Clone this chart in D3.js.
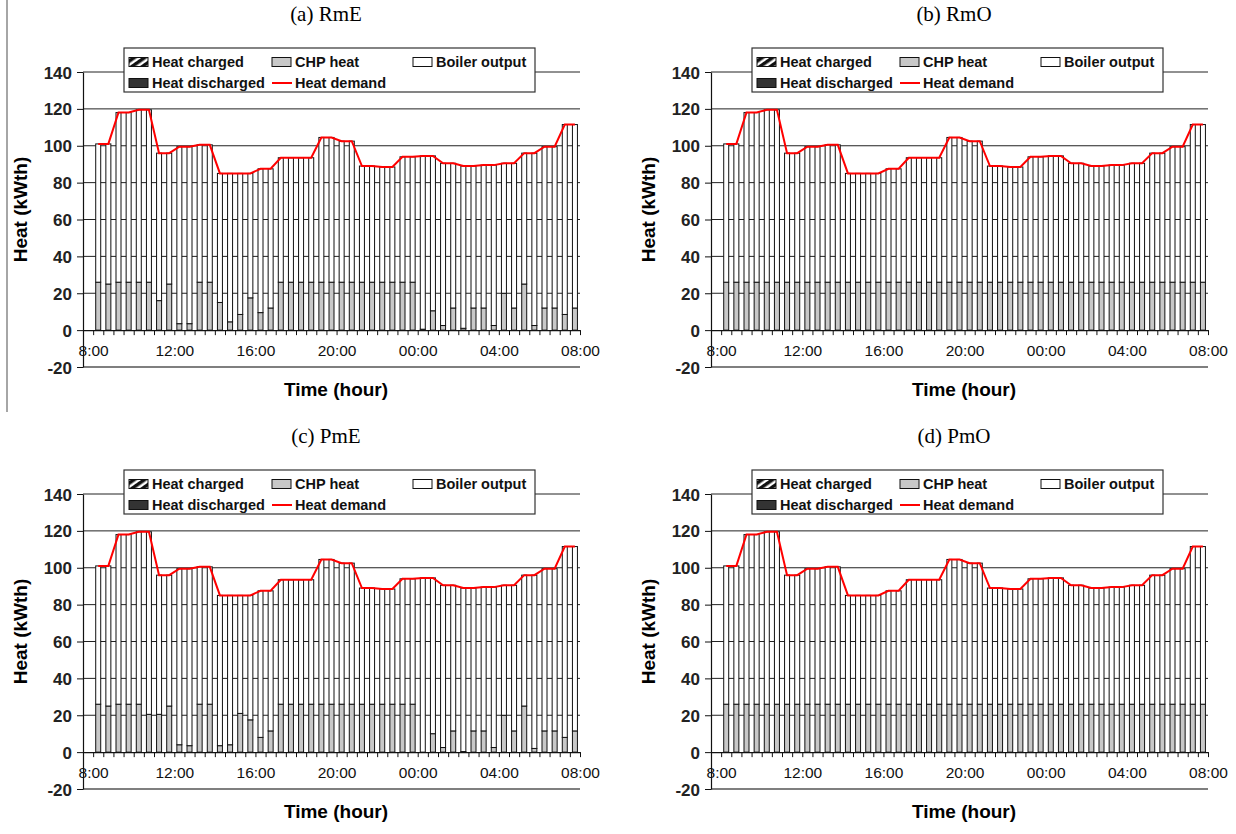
<!DOCTYPE html>
<html>
<head>
<meta charset="utf-8">
<script src="https://cdn.jsdelivr.net/npm/d3@7"></script>
<style>
  body { margin: 0; background: #fff; }
  svg { display: block; }
</style>
</head>
<body>
<div id="chart"></div>
<script>
// half-hour slots, 8:00 -> 08:00 next day (48 slots)
const slotStart = d3.range(48).map(k => 8 + 0.5 * k);
const tickLabels = ["8:00", "12:00", "16:00", "20:00", "00:00", "04:00", "08:00"];
const yTicks = [-20, 0, 20, 40, 60, 80, 100, 120, 140];

// heat demand (kWth)
const demand = [
	101, 101, 118, 118, 119.5, 119.5, 96, 96, 99.5, 99.5, 100.5, 100.5,
	85, 85, 85, 85, 87.5, 87.5, 93.5, 93.5, 93.5, 93.5, 104.5, 104.5,
	102.5, 102.5, 89, 89, 88.5, 88.5, 94, 94, 94.5, 94.5, 90.5, 90.5,
	89, 89, 89.5, 89.5, 90.5, 90.5, 96, 96, 99.5, 99.5, 111.5, 111.5,
];

// CHP heat per slot
const chpRmE = [
	26, 25, 26, 26, 26, 26, 16, 25, 3.5, 3.5, 26, 26,
	15, 4.5, 8.5, 17.5, 9.5, 12, 26, 26, 26, 26, 26, 26,
	26, 26, 26, 26, 26, 26, 26, 26, 0.5, 10.5, 2.5, 12,
	1, 12, 12, 2.5, 20, 12, 25, 2.5, 12, 12, 8.5, 12,
];
const chpRmO = [
	26, 26, 26, 26, 26, 26, 26, 26, 26, 26, 26, 26,
	26, 26, 26, 26, 26, 26, 26, 26, 26, 26, 26, 26,
	26, 26, 26, 26, 26, 26, 26, 26, 26, 26, 26, 26,
	26, 26, 26, 26, 26, 26, 26, 26, 26, 26, 26, 26,
];
const chpPmE = [
	26, 25, 26, 26, 26, 20.5, 20.5, 25, 4, 3.5, 26, 26,
	3.5, 4, 21, 17.5, 8, 11.5, 26, 26, 26, 26, 26, 26,
	26, 26, 26, 26, 26, 26, 26, 26, 0, 10, 2.5, 11.5,
	0.3, 11.5, 11.5, 2.5, 20, 11.5, 25, 2, 11.5, 11.5, 8, 11.5,
];
const chpPmO = [
	26, 26, 26, 26, 26, 26, 26, 26, 26, 26, 26, 26,
	26, 26, 26, 26, 26, 26, 26, 26, 26, 26, 26, 26,
	26, 26, 26, 26, 26, 26, 26, 26, 26, 26, 26, 26,
	26, 26, 26, 26, 26, 26, 26, 26, 26, 26, 26, 26,
];

const panels = [
	{ title: "(a) RmE", chp: chpRmE, ox: 0, oy: 0 },
	{ title: "(b) RmO", chp: chpRmO, ox: 628, oy: 0 },
	{ title: "(c) PmE", chp: chpPmE, ox: 0, oy: 422 },
	{ title: "(d) PmO", chp: chpPmO, ox: 628, oy: 422 },
];

const width = 1236;
const height = 834;
const margin = { top: 72, left: 83 };
const innerWidth = 497;
const innerHeight = 295;
const sans = "'Liberation Sans', Arial, sans-serif";

const svg = d3.select("#chart")
	.append("svg")
	.attr("width", width)
	.attr("height", height);

// hatch pattern for "Heat charged"
svg.append("defs")
	.append("pattern")
	.attr("id", "hatch")
	.attr("patternUnits", "userSpaceOnUse")
	.attr("width", 6)
	.attr("height", 6)
	.attr("patternTransform", "rotate(-35)")
	.append("rect")
	.attr("width", 6)
	.attr("height", 3.5)
	.attr("fill", "#111");

// frame line at far left (from the source figure)
svg.append("line")
	.attr("x1", 7).attr("x2", 7)
	.attr("y1", 0).attr("y2", 412)
	.attr("stroke", "#888")
	.attr("stroke-width", 1.5);

const x = d3.scaleLinear([7.5, 32], [0, innerWidth]);
const y = d3.scaleLinear([-20, 140], [innerHeight, 0]);
const barW = 5;

panels.forEach(p => {
	const g = svg.append("g")
		.attr("transform", `translate(${margin.left + p.ox},${margin.top + p.oy})`);

	// title
	g.append("text")
		.attr("x", 243)
		.attr("y", -51)
		.attr("text-anchor", "middle")
		.attr("font-family", "'Liberation Serif', 'Times New Roman', serif")
		.attr("font-size", 21)
		.text(p.title);

	// gridlines
	g.append("g")
		.selectAll("line")
		.data(yTicks.filter(v => v > 0))
		.join("line")
		.attr("x1", 0)
		.attr("x2", innerWidth)
		.attr("y1", d => y(d))
		.attr("y2", d => y(d))
		.attr("stroke", "#222")
		.attr("stroke-width", 1);

	g.append("line")
		.attr("x1", 0).attr("x2", innerWidth)
		.attr("y1", y(-20)).attr("y2", y(-20))
		.attr("stroke", "#555")
		.attr("stroke-width", 1.5);

	// stacked bars
	const rows = slotStart.map((h, i) => ({ h, chp: p.chp[i], demand: demand[i] }));
	const bars = g.append("g");
	bars.selectAll("rect.chp")
		.data(rows)
		.join("rect")
		.attr("class", "chp")
		.attr("x", d => x(d.h + 0.25) - barW / 2)
		.attr("width", barW)
		.attr("y", d => y(d.chp))
		.attr("height", d => y(0) - y(d.chp))
		.attr("fill", "#c8c8c8")
		.attr("stroke", "#111")
		.attr("stroke-width", 1);
	bars.selectAll("rect.boiler")
		.data(rows)
		.join("rect")
		.attr("class", "boiler")
		.attr("x", d => x(d.h + 0.25) - barW / 2)
		.attr("width", barW)
		.attr("y", d => y(d.demand))
		.attr("height", d => y(d.chp) - y(d.demand))
		.attr("fill", "#fff")
		.attr("stroke", "#111")
		.attr("stroke-width", 1);

	// heat demand line
	g.append("path")
		.datum(rows)
		.attr("fill", "none")
		.attr("stroke", "#ff0000")
		.attr("stroke-width", 2)
		.attr("d", d3.line().x(d => x(d.h + 0.25)).y(d => y(d.demand)));

	// y axis
	const yAxis = d3.axisLeft(y)
		.tickValues(yTicks)
		.tickSize(6)
		.tickSizeOuter(0)
		.tickPadding(5)
		.tickFormat(d => String(d));
	const yg = g.append("g").call(yAxis)
		.attr("font-family", sans)
		.attr("font-size", 17)
		.attr("font-weight", "bold");
	yg.select(".domain").attr("stroke", "#111").attr("stroke-width", 1.2);
	yg.selectAll(".tick line").attr("stroke", "#111");
	yg.selectAll("text")
		.attr("dy", null)
		.attr("y", 6)
		.attr("fill", "#222");

	// x axis at zero
	const xAxis = d3.axisBottom(x)
		.tickValues(d3.range(8, 32.01, 0.5))
		.tickSize(5)
		.tickSizeOuter(0)
		.tickPadding(10)
		.tickFormat(h => (h % 4 === 0 ? tickLabels[(h - 8) / 4] : ""));
	const xg = g.append("g").attr("transform", `translate(0,${y(0)})`).call(xAxis)
		.attr("font-family", sans)
		.attr("font-size", 15.5);
	xg.select(".domain").attr("stroke", "#111").attr("stroke-width", 1.2);
	xg.selectAll(".tick line").attr("stroke", "#111");
	xg.selectAll(".tick text").filter(h => h % 4 !== 0).remove();
	xg.selectAll("text")
		.attr("dy", null)
		.attr("y", 26)
		.attr("fill", "#111");

	// axis titles
	g.append("text")
		.attr("transform", `translate(-56,${innerHeight / 2 - 10}) rotate(-90)`)
		.attr("text-anchor", "middle")
		.attr("font-family", sans)
		.attr("font-size", 19)
		.attr("font-weight", "bold")
		.text("Heat (kWth)");

	g.append("text")
		.attr("x", 253)
		.attr("y", 324)
		.attr("text-anchor", "middle")
		.attr("font-family", sans)
		.attr("font-size", 19)
		.attr("font-weight", "bold")
		.text("Time (hour)");

	// legend
	const lg = g.append("g").attr("transform", "translate(41,-24)");
	lg.append("rect")
		.attr("width", 411)
		.attr("height", 44)
		.attr("fill", "#fff")
		.attr("stroke", "#333")
		.attr("stroke-width", 1.2);
	const items = [
		{ name: "Heat charged", fill: "url(#hatch)", lx: 5, ly: 14 },
		{ name: "CHP heat", fill: "#c8c8c8", lx: 148, ly: 14 },
		{ name: "Boiler output", fill: "#fff", lx: 289, ly: 14 },
		{ name: "Heat discharged", fill: "#333", lx: 5, ly: 35 },
		{ name: "Heat demand", line: true, lx: 148, ly: 35 },
	];
	items.forEach(it => {
		if (it.line) {
			lg.append("line")
				.attr("x1", it.lx).attr("x2", it.lx + 20)
				.attr("y1", it.ly).attr("y2", it.ly)
				.attr("stroke", "#ff0000")
				.attr("stroke-width", 2);
		} else {
			lg.append("rect")
				.attr("x", it.lx)
				.attr("y", it.ly - 4.5)
				.attr("width", 19)
				.attr("height", 9)
				.attr("fill", it.fill)
				.attr("stroke", "#111")
				.attr("stroke-width", 1);
		}
		lg.append("text")
			.attr("x", it.lx + 23)
			.attr("y", it.ly + 5)
			.attr("font-family", sans)
			.attr("font-size", 14.5)
			.attr("font-weight", "bold")
			.attr("fill", "#111")
			.text(it.name);
	});
});
</script>
</body>
</html>
